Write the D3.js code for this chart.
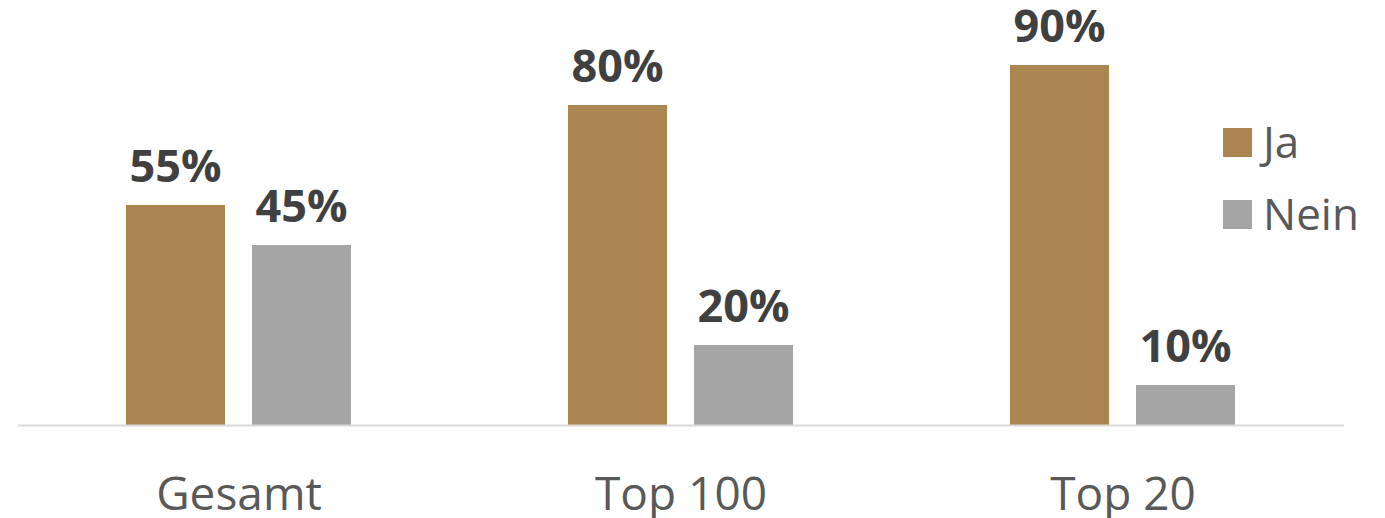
<!DOCTYPE html>
<html>
<head>
<meta charset="utf-8">
<script src="https://cdn.jsdelivr.net/npm/d3@7"></script>
<style>
  body { margin: 0; background: #fff; }
  svg { display: block; font-family: "Open Sans", sans-serif; }
</style>
</head>
<body>
<div id="chart"></div>
<script>
const categories = ["Gesamt", "Top 100", "Top 20"]
const series = ["Ja", "Nein"]
const jaValues = [55, 80, 90]
const neinValues = [45, 20, 10]
const colors = ["#ab8651", "#a5a5a5"]

const width = 1385, height = 518
const svg = d3.select("#chart").append("svg")
    .attr("width", width)
    .attr("height", height)

// plot area: three category bands, the two bars sit in the middle of each
const x0 = d3.scaleBand().domain(categories).range([18, 1344])
const x1 = d3.scaleBand().domain(series).range([108, 333]).paddingInner(0.2143)
const y = d3.scaleLinear().domain([0, 100]).range([425, 25])

const rows = categories.map((c, i) => ({cat: c, vals: [jaValues[i], neinValues[i]]}))

const groups = svg.append("g").selectAll("g")
    .data(rows)
    .join("g")
    .attr("transform", d => `translate(${x0(d.cat)},0)`)

groups.selectAll("rect")
    .data(d => d.vals.map((v, j) => ({s: series[j], v})))
    .join("rect")
    .attr("x", d => x1(d.s))
    .attr("width", x1.bandwidth())
    .attr("y", d => y(d.v))
    .attr("height", d => y(0) - y(d.v))
    .attr("fill", (d, j) => colors[j])

groups.selectAll("text.val")
    .data(d => d.vals.map((v, j) => ({s: series[j], v})))
    .join("text")
    .attr("class", "val")
    .attr("x", d => x1(d.s) + x1.bandwidth() / 2)
    .attr("y", d => y(d.v) - 23)
    .attr("text-anchor", "middle")
    .attr("font-size", 45)
    .attr("font-weight", "bold")
    .attr("fill", "#404040")
    .text(d => d.v + "%")

// baseline
svg.append("line")
    .attr("x1", 18).attr("x2", 1344)
    .attr("y1", y(0) + 0.5).attr("y2", y(0) + 0.5)
    .attr("stroke", "#d9d9d9")
    .attr("stroke-width", 2)

// category axis
const xAxis = svg.append("g")
    .attr("transform", `translate(0,${y(0)})`)
    .call(d3.axisBottom(x0).tickSize(0).tickPadding(0))
xAxis.select(".domain").remove()
xAxis.selectAll("text")
    .attr("dy", null)
    .attr("y", 85)
    .attr("font-size", 46)
    .attr("font-family", "Open Sans, sans-serif")
    .attr("fill", "#595959")

// legend
const legend = svg.append("g").selectAll("g")
    .data(series)
    .join("g")
    .attr("transform", (d, i) => `translate(1223,${128 + i * 72})`)
legend.append("rect")
    .attr("width", 29).attr("height", 29)
    .attr("fill", (d, i) => colors[i])
legend.append("text")
    .attr("x", 40)
    .attr("y", 30)
    .attr("font-size", 44)
    .attr("fill", "#595959")
    .text(d => d)
</script>
</body>
</html>
